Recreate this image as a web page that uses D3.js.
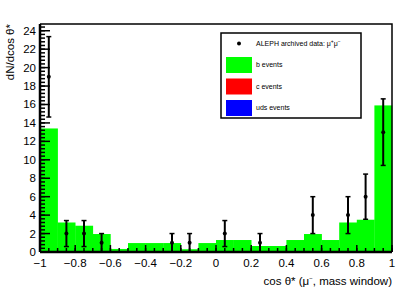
<!DOCTYPE html>
<html>
<head>
<meta charset="utf-8">
<script src="https://cdn.jsdelivr.net/npm/d3@7"></script>
<style>
  body { margin: 0; background: #fff; }
  text { font-family: "Liberation Sans", Arial, sans-serif; }
</style>
</head>
<body>
<svg id="chart" width="407" height="294"></svg>
<script>
// Data
const binLow = [-1, -0.9, -0.8, -0.7, -0.6, -0.5, -0.4, -0.3, -0.2, -0.1, 0, 0.1, 0.2, 0.3, 0.4, 0.5, 0.6, 0.7, 0.8, 0.9];
const bEvents = [13.4, 3.2, 2.85, 1.95, 0.33, 0.97, 0.97, 0.97, 0.3, 0.97, 1.3, 1.3, 0.65, 0.65, 1.3, 1.95, 1.3, 3.2, 3.5, 15.9];
const dataX = [-0.95, -0.85, -0.75, -0.65, -0.25, -0.15, 0.05, 0.25, 0.55, 0.75, 0.85, 0.95];
const dataY = [19, 2, 2, 1, 1, 1, 2, 1, 4, 4, 6, 13];
const dataErr = [4.36, 1.41, 1.41, 1, 1, 1, 1.41, 1, 2, 2, 2.45, 3.61];
const xTicks = [-1, -0.8, -0.6, -0.4, -0.2, 0, 0.2, 0.4, 0.6, 0.8, 1];
const yTicks = [0, 2, 4, 6, 8, 10, 12, 14, 16, 18, 20, 22, 24];
const legendItems = [
    { label: "b events", color: "#00ff00" },
    { label: "c events", color: "#ff0000" },
    { label: "uds events", color: "#0000ff" }
];

const binWidth = 0.1;
const padL = 40, padR = 392, padT = 24, padB = 252;
const svg = d3.select("#chart");

const x = d3.scaleLinear().domain([-1, 1]).range([padL, padR]);
const y = d3.scaleLinear().domain([0, 24.73]).range([padB, padT]);

// b events histogram
svg.selectAll(".bin")
    .data(binLow.map((lo, i) => ({ lo: lo, v: bEvents[i] })))
    .enter().append("rect")
    .attr("class", "bin")
    .attr("x", d => x(d.lo))
    .attr("width", d => x(d.lo + binWidth) - x(d.lo) + 0.3)
    .attr("y", d => y(d.v))
    .attr("height", d => padB - y(d.v))
    .attr("fill", "#00ff00");

// frame top and right
svg.append("path")
    .attr("d", `M${padL},${padT}H${padR}V${padB}`)
    .attr("fill", "none")
    .attr("stroke", "#000")
    .attr("stroke-width", 1.5);

// x axis ticks (pointing up)
const xMinor = d3.range(-1, 1.0001, 0.05);
svg.selectAll(".xminor")
    .data(xMinor).enter().append("line")
    .attr("x1", d => x(d)).attr("x2", d => x(d))
    .attr("y1", padB).attr("y2", padB - 4)
    .attr("stroke", "#000").attr("stroke-width", 1.5);
svg.selectAll(".xmajor")
    .data(xTicks).enter().append("line")
    .attr("x1", d => x(d)).attr("x2", d => x(d))
    .attr("y1", padB).attr("y2", padB - 7)
    .attr("stroke", "#000").attr("stroke-width", 1.5);
svg.selectAll(".xlab")
    .data(xTicks).enter().append("text")
    .attr("x", d => x(d))
    .attr("y", padB + 15)
    .attr("text-anchor", "middle")
    .attr("font-size", 11.5)
    .text(d => d3.format("")(d).replace("-", "\u2212"));

// y axis ticks (pointing right)
const yMinor = d3.range(0, 24.5, 0.4);
svg.selectAll(".yminor")
    .data(yMinor).enter().append("line")
    .attr("x1", padL).attr("x2", padL + 5)
    .attr("y1", d => y(d)).attr("y2", d => y(d))
    .attr("stroke", "#000").attr("stroke-width", 1.5);
svg.selectAll(".ymajor")
    .data(yTicks).enter().append("line")
    .attr("x1", padL).attr("x2", padL + 10)
    .attr("y1", d => y(d)).attr("y2", d => y(d))
    .attr("stroke", "#000").attr("stroke-width", 1.5);
svg.selectAll(".ylab")
    .data(yTicks).enter().append("text")
    .attr("x", padL - 4)
    .attr("y", d => y(d) + 4)
    .attr("text-anchor", "end")
    .attr("font-size", 11.5)
    .text(d => d);

// axis lines
svg.append("line").attr("x1", padL).attr("x2", padR).attr("y1", padB).attr("y2", padB)
    .attr("stroke", "#000").attr("stroke-width", 2.5);
svg.append("line").attr("x1", padL).attr("x2", padL).attr("y1", padT).attr("y2", padB)
    .attr("stroke", "#000").attr("stroke-width", 2.5);

// data points with error bars
const pts = dataX.map((d, i) => ({ x: d, y: dataY[i], e: dataErr[i] }));
const g = svg.selectAll(".pt").data(pts).enter().append("g");
g.append("line")
    .attr("x1", d => x(d.x)).attr("x2", d => x(d.x))
    .attr("y1", d => y(d.y - d.e)).attr("y2", d => y(d.y + d.e))
    .attr("stroke", "#000").attr("stroke-width", 2);
g.append("line")
    .attr("x1", d => x(d.x) - 2.5).attr("x2", d => x(d.x) + 2.5)
    .attr("y1", d => y(d.y - d.e)).attr("y2", d => y(d.y - d.e))
    .attr("stroke", "#000").attr("stroke-width", 1.5);
g.append("line")
    .attr("x1", d => x(d.x) - 2.5).attr("x2", d => x(d.x) + 2.5)
    .attr("y1", d => y(d.y + d.e)).attr("y2", d => y(d.y + d.e))
    .attr("stroke", "#000").attr("stroke-width", 1.5);
g.append("circle")
    .attr("cx", d => x(d.x)).attr("cy", d => y(d.y))
    .attr("r", 2).attr("fill", "#000");

// axis titles
const xt = svg.append("text")
    .attr("x", padR).attr("y", 285)
    .attr("text-anchor", "end")
    .attr("font-size", 11.5);
xt.append("tspan").text("cos \u03b8* (\u03bc");
xt.append("tspan").attr("font-size", 6).attr("dy", -5).text("\u2212");
xt.append("tspan").attr("dy", 5).text(", mass window)");

svg.append("text")
    .attr("transform", "translate(14,24) rotate(-90)")
    .attr("text-anchor", "end")
    .attr("font-size", 11.5)
    .text("dN/dcos \u03b8*");

// legend
svg.append("rect")
    .attr("x", 221).attr("y", 33).attr("width", 140).attr("height", 85)
    .attr("fill", "#fff").attr("stroke", "#000").attr("stroke-width", 1.5);
svg.append("circle").attr("cx", 239).attr("cy", 43.5).attr("r", 2).attr("fill", "#000");
const lt = svg.append("text").attr("x", 256).attr("y", 46).attr("font-size", 7);
lt.append("tspan").text("ALEPH archived data: \u03bc");
lt.append("tspan").attr("font-size", 5).attr("dy", -3).text("+");
lt.append("tspan").attr("dy", 3).text("\u03bc");
lt.append("tspan").attr("font-size", 5).attr("dy", -3).text("\u2212");

legendItems.forEach((item, i) => {
    const yy = 57 + i * 21.5;
    svg.append("rect")
        .attr("x", 226).attr("y", yy).attr("width", 26).attr("height", 16)
        .attr("fill", item.color);
    svg.append("text")
        .attr("x", 256).attr("y", yy + 10)
        .attr("font-size", 7)
        .text(item.label);
});
</script>
</body>
</html>
